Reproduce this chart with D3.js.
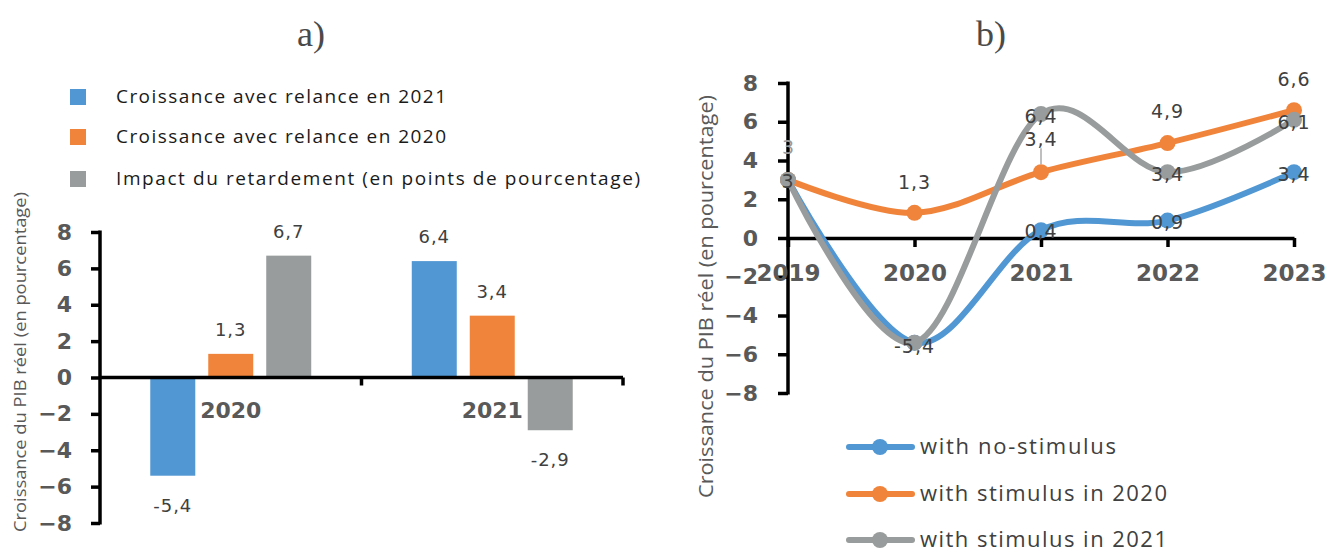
<!DOCTYPE html>
<html><head><meta charset="utf-8">
<script src="https://cdn.jsdelivr.net/npm/d3@7"></script>
<style>
body{margin:0;background:#fff;}
svg{display:block;}
</style></head><body>
<svg id="c" width="1327" height="552"></svg>
<script>
// ---- Data ----
const barCategories = ["2020", "2021"];
const barSeries = ["Croissance avec relance en 2021", "Croissance avec relance en 2020", "Impact du retardement (en points de pourcentage)"];
const barBlue = [-5.4, 6.4];
const barOrange = [1.3, 3.4];
const barGray = [6.7, -2.9];
const barLabels = [["-5,4", "6,4"], ["1,3", "3,4"], ["6,7", "-2,9"]];

const lineYears = ["2019", "2020", "2021", "2022", "2023"];
const lineSeries = ["with no-stimulus", "with stimulus in 2020", "with stimulus in 2021"];
const noStimulus = [3, -5.4, 0.4, 0.9, 3.4];
const stimulus2020 = [3, 1.3, 3.4, 4.9, 6.6];
const stimulus2021 = [3, -5.4, 6.4, 3.4, 6.1];
const yTicks = [-8, -6, -4, -2, 0, 2, 4, 6, 8];

const colors = ["#5097d3", "#f0843a", "#999c9c"];
const svg = d3.select("#c");
const tickFont = "'DejaVu Sans', sans-serif";
const valFont = "'DejaVu Sans', sans-serif";

// ---- Titles ----
svg.append("text").attr("x", 311).attr("y", 46).attr("text-anchor", "middle")
  .attr("font-family", "'Liberation Serif', serif").attr("font-size", 36).attr("fill", "#4a4a4a").text("a)");
svg.append("text").attr("x", 991).attr("y", 46).attr("text-anchor", "middle")
  .attr("font-family", "'Liberation Serif', serif").attr("font-size", 36).attr("fill", "#4a4a4a").text("b)");

// ---- Panel a ----
const yA = d3.scaleLinear().domain([-8, 8]).range([523, 232]);
const xA = d3.scaleBand().domain(barCategories).range([100, 623]).paddingInner(0).paddingOuter(0);
const xA1 = d3.scaleBand().domain(d3.range(3)).range([0, xA.bandwidth()]).paddingInner(0.224).paddingOuter(0.867);
const barVals = [barBlue, barOrange, barGray];

// legend a
const legA = svg.append("g");
const legAY = [97, 137, 179];
const legAW = [330, 330, 524];
barSeries.forEach((s, i) => {
  legA.append("rect").attr("x", 70).attr("y", legAY[i] - 8).attr("width", 16).attr("height", 16).attr("fill", colors[i]);
  legA.append("text").attr("x", 116).attr("y", legAY[i] + 6).attr("font-family", "'Open Sans', sans-serif")
    .attr("font-size", 19).attr("fill", "#1a1a1a").attr("textLength", legAW[i]).attr("lengthAdjust", "spacing").text(s);
});

// bars
const gA = svg.append("g");
barVals.forEach((vals, si) => {
  gA.selectAll(null).data(vals).enter().append("rect")
    .attr("x", (d, i) => xA(barCategories[i]) + xA1(si))
    .attr("width", xA1.bandwidth())
    .attr("y", d => yA(Math.max(0, d)))
    .attr("height", d => Math.abs(yA(d) - yA(0)))
    .attr("fill", colors[si]);
});

// y axis a
const axA = d3.axisLeft(yA).tickValues(yTicks).tickSize(9).tickSizeOuter(0).tickPadding(19).tickFormat(d3.format("d"));
const gAxA = svg.append("g").attr("transform", "translate(100,0)").call(axA);
gAxA.select(".domain").attr("stroke", "#000").attr("stroke-width", 3.5).attr("d", `M0,${yA(8)-1.5}V${yA(-8)+1.5}`);
gAxA.selectAll(".tick line").attr("stroke", "#000").attr("stroke-width", 3.5);
gAxA.selectAll(".tick text").attr("font-family", tickFont).attr("font-weight", "bold").attr("font-size", 22).attr("fill", "#595959");

// x axis a
const gXA = svg.append("g");
gXA.append("line").attr("x1", 100).attr("x2", 623).attr("y1", yA(0)).attr("y2", yA(0)).attr("stroke", "#000").attr("stroke-width", 3.5);
const bounds = [xA(barCategories[0]) + xA.bandwidth(), xA(barCategories[1]) + xA.bandwidth()];
gXA.selectAll(null).data(bounds).enter().append("line")
  .attr("x1", d => d).attr("x2", d => d).attr("y1", yA(0)).attr("y2", yA(0) + 8)
  .attr("stroke", "#000").attr("stroke-width", 3.5);
gXA.selectAll(null).data(barCategories).enter().append("text")
  .attr("x", d => xA(d) + xA.bandwidth() / 2).attr("y", 418).attr("text-anchor", "middle")
  .attr("font-family", tickFont).attr("font-weight", "bold").attr("font-size", 22).attr("fill", "#595959").text(d => d);

// value labels a
barVals.forEach((vals, si) => {
  gA.selectAll(null).data(vals).enter().append("text")
    .attr("x", (d, i) => xA(barCategories[i]) + xA1(si) + xA1.bandwidth() / 2)
    .attr("y", d => d >= 0 ? yA(d) - 18 : yA(d) + 36)
    .attr("text-anchor", "middle").attr("font-family", valFont).attr("font-size", 18)
    .attr("letter-spacing", 1).attr("fill", "#404040")
    .text((d, i) => barLabels[si][i]);
});

// axis title a
svg.append("text").attr("transform", "translate(26,532) rotate(-90)")
  .attr("font-family", "'Open Sans', sans-serif").attr("font-size", 17).attr("fill", "#595959")
  .attr("textLength", 340).attr("lengthAdjust", "spacingAndGlyphs")
  .text("Croissance du PIB réel (en pourcentage)");

// ---- Panel b ----
const yB = d3.scaleLinear().domain([-8, 8]).range([393, 83]);
const xB = d3.scalePoint().domain(lineYears).range([788, 1294]).padding(0);
const lineVals = [noStimulus, stimulus2020, stimulus2021];

const axB = d3.axisLeft(yB).tickValues(yTicks).tickSize(10).tickSizeOuter(0).tickPadding(20).tickFormat(d3.format("d"));
const gAxB = svg.append("g").attr("transform", "translate(788,0)").call(axB);
gAxB.select(".domain").attr("stroke", "#000").attr("stroke-width", 3.5).attr("d", `M0,${yB(8)-1.5}V${yB(-8)+1.5}`);
gAxB.selectAll(".tick line").attr("stroke", "#000").attr("stroke-width", 3.5);
gAxB.selectAll(".tick text").attr("font-family", tickFont).attr("font-weight", "bold").attr("font-size", 22).attr("fill", "#595959");

const axXB = d3.axisBottom(xB).tickSize(9).tickSizeOuter(0).tickPadding(18);
const gXB = svg.append("g").attr("transform", `translate(0,${yB(0)})`).call(axXB);
gXB.select(".domain").attr("stroke", "#000").attr("stroke-width", 3.5);
gXB.selectAll(".tick line").attr("stroke", "#000").attr("stroke-width", 3.5);
gXB.selectAll(".tick text").attr("font-family", tickFont).attr("font-weight", "bold").attr("font-size", 23).attr("fill", "#595959");

// lines
const lineGen = d3.line().x((d, i) => xB(lineYears[i])).y(d => yB(d)).curve(d3.curveCardinal.tension(0));
const gB = svg.append("g");
lineVals.forEach((vals, si) => {
  gB.append("path").attr("d", lineGen(vals)).attr("fill", "none").attr("stroke", colors[si])
    .attr("stroke-width", 6).attr("stroke-linecap", "round");
  gB.selectAll(null).data(vals).enter().append("circle")
    .attr("cx", (d, i) => xB(lineYears[i])).attr("cy", d => yB(d)).attr("r", 8).attr("fill", colors[si]);
});

// labels b
const fmt = v => String(v).replace(".", ",");
// leader line for orange 2021
gB.append("line").attr("x1", xB("2021")).attr("x2", xB("2021")).attr("y1", yB(3.4) - 24).attr("y2", yB(3.4) - 8)
  .attr("stroke", "#aaa").attr("stroke-width", 1.5);
const labelSpec = [
  // [series, index, dy]
  [0, 1, 10], [0, 2, 8], [0, 3, 8], [0, 4, 9],
  [1, 1, -24], [1, 2, -26], [1, 3, -25], [1, 4, -24],
  [2, 2, 9], [2, 3, 9], [2, 4, 9], [2, 0, 8]
];
labelSpec.forEach(([si, i, dy]) => {
  gB.append("text").attr("x", xB(lineYears[i])).attr("y", yB(lineVals[si][i]) + dy)
    .attr("text-anchor", "middle").attr("font-family", valFont).attr("font-size", 19)
    .attr("letter-spacing", 1).attr("fill", "#404040").text(fmt(lineVals[si][i]));
});
gB.append("text").attr("x", xB("2019")).attr("y", yB(noStimulus[0]) - 26)
  .attr("text-anchor", "middle").attr("font-family", valFont).attr("font-size", 19)
  .attr("fill", "#9a9a9a").text(fmt(noStimulus[0]));

// legend b
const legBY = [447, 494, 540];
const legBW = [196, 247, 247];
lineSeries.forEach((s, i) => {
  const g = svg.append("g");
  g.append("line").attr("x1", 849).attr("x2", 912).attr("y1", legBY[i]).attr("y2", legBY[i])
    .attr("stroke", colors[i]).attr("stroke-width", 6).attr("stroke-linecap", "round");
  g.append("circle").attr("cx", 880).attr("cy", legBY[i]).attr("r", 8).attr("fill", colors[i]);
  g.append("text").attr("x", 920).attr("y", legBY[i] + 7).attr("font-family", "'Open Sans', sans-serif")
    .attr("font-size", 22).attr("fill", "#404040").attr("textLength", legBW[i]).attr("lengthAdjust", "spacing").text(s);
});

// axis title b
svg.append("text").attr("transform", "translate(713,498) rotate(-90)")
  .attr("font-family", "'Open Sans', sans-serif").attr("font-size", 20).attr("fill", "#595959")
  .attr("textLength", 403).attr("lengthAdjust", "spacingAndGlyphs")
  .text("Croissance du PIB réel (en pourcentage)");
</script>
</body></html>
